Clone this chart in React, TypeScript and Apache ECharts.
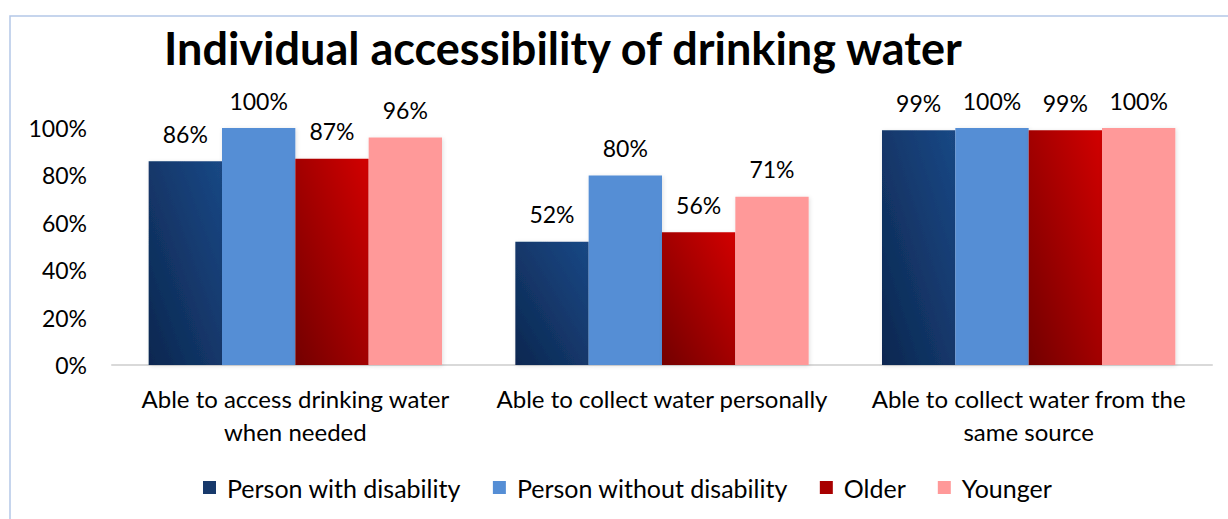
import React, { useEffect, useRef } from "react";
import * as echarts from "echarts";

const categories = [
  "Able to access drinking water\nwhen needed",
  "Able to collect water personally",
  "Able to collect water from the\nsame source",
];
const seriesNames = [
  "Person with disability",
  "Person without disability",
  "Older",
  "Younger",
];
const withDisability = [86, 52, 99];
const withoutDisability = [100, 80, 100];
const older = [87, 56, 99];
const younger = [96, 71, 100];
const yTicks = [0, 20, 40, 60, 80, 100];

const FONT = "Lato, 'Open Sans', sans-serif";

export default function App() {
  const ref = useRef<HTMLDivElement>(null);
  useEffect(() => {
    if (!ref.current) return;
    const chart = echarts.init(ref.current, null, { renderer: "svg" });
    const darkBlue = new echarts.graphic.LinearGradient(0, 1, 1, 0, [
      { offset: 0, color: "#0c2750" },
      { offset: 1, color: "#1a4885" },
    ]);
    const darkRed = new echarts.graphic.LinearGradient(0, 1, 1, 0, [
      { offset: 0, color: "#730000" },
      { offset: 1, color: "#d20000" },
    ]);
    const colors: any[] = [darkBlue, "#558ed5", darkRed, "#ff9999"];
    const legendColors = ["#17396b", "#558ed5", "#a80000", "#ff9999"];
    const dataSets = [withDisability, withoutDisability, older, younger];
    const labelStyle = {
      show: true,
      position: "top",
      distance: 16,
      formatter: (p: any) => p.value + "%",
      fontSize: 23,
      fontFamily: FONT,
      color: "#000",
    };
    chart.setOption({
      animation: false,
      textStyle: { fontFamily: FONT },
      graphic: [
        {
          type: "rect",
          shape: { x: 10, y: 16, width: 1240, height: 520 },
          style: { fill: "none", stroke: "#b4c7e7", lineWidth: 1.5 },
          silent: true,
        },
      ],
      title: {
        text: "Individual accessibility of drinking water",
        left: 159,
        top: 20,
        textStyle: { fontSize: 45, fontWeight: "bold", color: "#000", fontFamily: FONT },
      },
      legend: {
        bottom: 14,
        left: 198,
        itemWidth: 13,
        itemHeight: 13,
        itemGap: 32,
        icon: "rect",
        textStyle: { fontSize: 25, color: "#000", fontFamily: FONT, padding: [0, 0, 0, 6] },
        data: seriesNames.map((n, i) => ({ name: n, itemStyle: { color: legendColors[i] } })),
      },
      grid: { left: 112, right: 16, top: 128, bottom: 154, containLabel: false },
      xAxis: {
        type: "category",
        data: categories,
        axisLine: { lineStyle: { color: "#d9d9d9", width: 2 } },
        axisTick: { show: false },
        axisLabel: {
          fontSize: 24,
          color: "#000",
          lineHeight: 33,
          margin: 17,
          fontFamily: FONT,
          interval: 0,
        },
      },
      yAxis: {
        type: "value",
        min: yTicks[0],
        max: yTicks[yTicks.length - 1],
        interval: 20,
        splitLine: { show: false },
        axisLine: { show: false },
        axisTick: { show: false },
        axisLabel: {
          formatter: "{value}%",
          fontSize: 23,
          color: "#000",
          margin: 25,
          fontFamily: FONT,
        },
      },
      series: dataSets.map((d, i) => ({
        name: seriesNames[i],
        type: "bar",
        data: d,
        barGap: "0%",
        barCategoryGap: "20%",
        itemStyle: {
          color: colors[i],
          shadowColor: "rgba(0,0,0,0.12)",
          shadowBlur: 4,
          shadowOffsetX: 1,
          shadowOffsetY: 1,
        },
        label: labelStyle,
      })),
    });
    return () => chart.dispose();
  }, []);
  return (
    <div
      ref={ref}
      style={{ position: "absolute", left: 0, top: 0, width: 1228, height: 519 }}
    />
  );
}
